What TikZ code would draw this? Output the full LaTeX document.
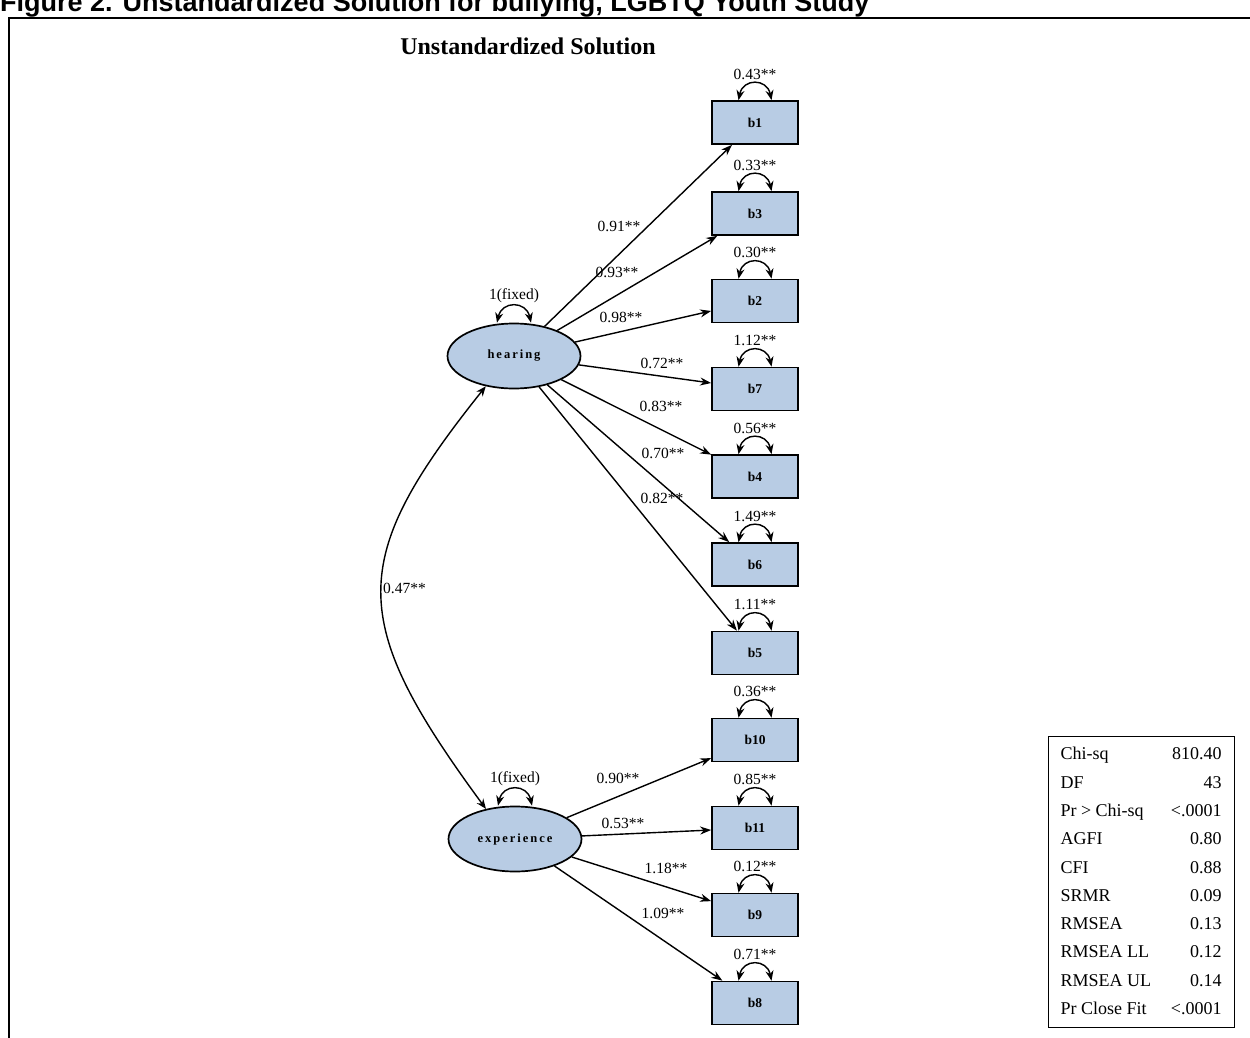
\documentclass[tikz,border=0pt]{standalone}
\usepackage{fontspec}
\setmainfont{Liberation Serif}
\newfontfamily\capfont{Liberation Sans}
\usetikzlibrary{arrows.meta,shapes.geometric}
\definecolor{boxfill}{RGB}{184,204,228}
% residual variance loop sitting on top of a node
\newcommand\errloop[2]{%
  \draw[varloop] ([xshift=-#2]#1.north) .. controls ([shift={(-12pt,22pt)}]#1.north)
    and ([shift={(12pt,22pt)}]#1.north) .. ([xshift=#2]#1.north);}
\begin{document}
\begin{tikzpicture}[x=1pt,y=-1pt,
  obs/.style={draw, line width=1.7pt, fill=boxfill, minimum width=86pt, minimum height=43pt,
    inner sep=0pt, font=\bfseries\fontsize{13.5}{15}\selectfont},
  lat/.style={draw, ellipse, line width=1.7pt, fill=boxfill, minimum width=133pt,
    minimum height=65pt, inner sep=0pt, font=\bfseries\fontsize{12.5}{14}\selectfont},
  load/.style={draw, line width=1.4pt, -{Stealth[length=11pt,width=8pt]}},
  varloop/.style={line width=1.4pt, {Stealth[length=10pt,width=8pt]}-{Stealth[length=10pt,width=8pt]}},
  est/.style={font=\fontsize{15.5}{17}\selectfont, inner sep=0pt},
]
\useasboundingbox (0,0) rectangle (1250,1038);

% caption and frame
\node[anchor=base west, inner sep=0pt, font=\capfont\bfseries\fontsize{27}{30}\selectfont] (cap) at (0,12)
  {Figure 2. Unstandardized Solution for bullying, LGBTQ Youth Study};
\draw[line width=2pt] (9,1045) -- (9,18) -- (1260,18);
\node[font=\bfseries\fontsize{24}{28}\selectfont, inner sep=0pt] (ttl) at (528,46) {Unstandardized Solution};

% latent factors
\node[lat] (hearing) at (514,356) {h\kern2pt e\kern2pt a\kern2pt r\kern2pt i\kern2pt n\kern2pt g};
\node[lat] (experience) at (515,839) {e\kern2pt x\kern2pt p\kern2pt e\kern2pt r\kern2pt i\kern2pt e\kern2pt n\kern2pt c\kern2pt e};

% indicators
\node[obs] (b1) at (755,122.5) {b1};
\node[obs] (b3) at (755,213.5) {b3};
\node[obs] (b2) at (755,301) {b2};
\node[obs] (b7) at (755,389) {b7};
\node[obs] (b4) at (755,476.5) {b4};
\node[obs] (b6) at (755,564.5) {b6};
\node[obs] (b5) at (755,653) {b5};
\node[obs] (b10) at (755,740) {b10};
\node[obs] (b11) at (755,828) {b11};
\node[obs] (b9) at (755,915) {b9};
\node[obs] (b8) at (755,1003) {b8};

% loadings
\draw[load] (hearing) -- (b1);
\draw[load] (hearing) -- (b3);
\draw[load] (hearing) -- (b2);
\draw[load] (hearing) -- (b7);
\draw[load] (hearing) -- (b4);
\draw[load] (hearing) -- (b6);
\draw[load] (hearing) -- (b5);
\draw[load] (experience) -- (b10);
\draw[load] (experience) -- (b11);
\draw[load] (experience) -- (b9);
\draw[load] (experience) -- (b8);

\node[est] (l1) at (619,226) {0.91**};
\node[est] (l3) at (617,272) {0.93**};
\node[est] (l2) at (621,317) {0.98**};
\node[est] (l7) at (662,363) {0.72**};
\node[est] (l4) at (661,406) {0.83**};
\node[est] (l6) at (663,453) {0.70**};
\node[est] (l5) at (662,498) {0.82**};
\node[est] (l10) at (618,778) {0.90**};
\node[est] (l11) at (623,823) {0.53**};
\node[est] (l9) at (666,868) {1.18**};
\node[est] (l8) at (663,913) {1.09**};

% factor covariance
\draw[varloop] (hearing.227) .. controls (347,560) and (347,620) .. (experience.134);
\node[est, anchor=west] (cov) at (383,588) {0.47**};

% variances
\errloop{hearing}{17pt}
\errloop{experience}{17pt}
\node[est] (vh) at ([yshift=27pt]hearing.north) {1(fixed)};
\node[est] (ve) at ([yshift=27pt]experience.north) {1(fixed)};
\foreach \n/\v in {b1/0.43, b3/0.33, b2/0.30, b7/1.12, b4/0.56, b6/1.49, b5/1.11,
                   b10/0.36, b11/0.85, b9/0.12, b8/0.71} {
  \errloop{\n}{16.5pt}
  \node[est] (v\n) at ([yshift=26pt]\n.north) {\v**};
}

% fit statistics
\node[draw, line width=1pt, inner xsep=12.5pt, inner ysep=4pt, fill=white,
      font=\fontsize{18}{28.3}\selectfont] (fit) at (1141,881.5) {%
  \begin{tabular*}{161pt}{@{}l@{\extracolsep{\fill}}r@{}}
  Chi-sq & 810.40\\
  DF & 43\\
  Pr > Chi-sq & <.0001\\
  AGFI & 0.80\\
  CFI & 0.88\\
  SRMR & 0.09\\
  RMSEA & 0.13\\
  RMSEA LL & 0.12\\
  RMSEA UL & 0.14\\
  Pr Close Fit & <.0001
  \end{tabular*}};
\end{tikzpicture}
\end{document}
